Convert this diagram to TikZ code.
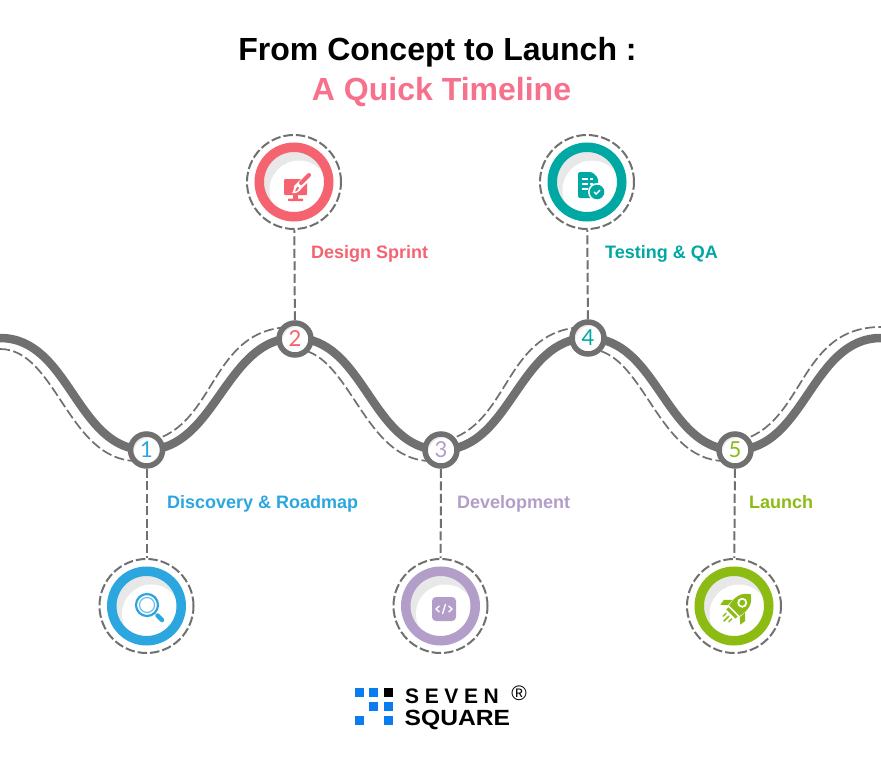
\documentclass[tikz,border=0pt]{standalone}
\usepackage{fontspec}
\setmainfont{Liberation Sans}
\newfontfamily\numfont{Lato}
\usetikzlibrary{calc}
\definecolor{trackgray}{HTML}{707070}
\definecolor{softgray}{HTML}{E8E8E8}
\definecolor{titlepink}{HTML}{F8718C}
\definecolor{sprintred}{HTML}{F4636F}
\definecolor{discoblue}{HTML}{2CA6DF}
\definecolor{devpurple}{HTML}{B39DC9}
\definecolor{testteal}{HTML}{00A8A3}
\definecolor{launchgreen}{HTML}{8CBB13}
\definecolor{logoblue}{HTML}{0A7CF0}
\tikzset{
    halo/.style={circle, draw=trackgray, line width=2pt, dash pattern=on 9.5pt off 3pt, minimum size=94pt, inner sep=0pt},
    bigring/.style={circle, draw=#1, line width=9.5pt, fill=white, minimum size=69.5pt, inner sep=0pt,
        path picture={
            \fill[softgray] (path picture bounding box.center) circle (36pt);
            \fill[white] ($(path picture bounding box.center)+(5pt,-8pt)$) circle (29.5pt);
        }},
    stagering/.style={circle, draw=trackgray, line width=5.5pt, fill=white, minimum size=32pt, inner sep=0pt,
        text=#1, font=\fontsize{22}{22}\numfont,
        path picture={
            \fill[softgray] (path picture bounding box.center) circle (16pt);
            \fill[white] ($(path picture bounding box.center)+(2pt,-2.5pt)$) circle (14.5pt);
        }},
    leader/.style={draw=trackgray, line width=2pt, dash pattern=on 9pt off 3.5pt},
    sidedash/.style={draw=trackgray, line width=1.7pt, dash pattern=on 10pt off 3.5pt},
    steplabel/.style={text=#1, font=\fontsize{18}{18}\selectfont\bfseries, anchor=base west, inner sep=0pt},
    logobox/.style={minimum size=9pt, inner sep=0pt, fill=logoblue},
    logotext/.style={anchor=base west, inner sep=0pt, font=\fontsize{#1}{#1}\selectfont\bfseries},
}
\begin{document}
\begin{tikzpicture}[x=1pt, y=-1pt]
    \useasboundingbox (0,0) rectangle (881,760);

    % Title
    \node[anchor=base, font=\fontsize{32}{32}\selectfont\bfseries] (title) at (437.5,61) {From Concept to Launch :};
    \node[anchor=base, font=\fontsize{32}{32}\selectfont\bfseries, text=titlepink] (subtitle) at (441.5,100) {A Quick Timeline};

    % Dashed side lines
    \foreach \x in {0,294,588} {
        \draw[sidedash] (\x,349) .. controls (\x+56,349) and (\x+68,460) .. (\x+136,461);
    }
    \foreach \x in {0,294,588} {
        \draw[sidedash] (\x+150,441) .. controls (\x+218,425) and (\x+209,327) .. (\x+293,327);
    }

    % Track
    \draw[trackgray, line width=8.5pt] (0,338)
        .. controls (70,338) and (76,450) .. (146,450)
        .. controls (216,450) and (225,338) .. (295,338)
        .. controls (365,338) and (371,450) .. (441,450)
        .. controls (511,450) and (518,338) .. (588,338)
        .. controls (658,338) and (665,450) .. (735,450)
        .. controls (805,450) and (811,338) .. (881,338);

    % Stage markers
    \node[stagering=discoblue] (stage1) at (146.5,450) {1};
    \node[stagering=sprintred] (stage2) at (295,339) {2};
    \node[stagering=devpurple] (stage3) at (441,450) {3};
    \node[stagering=testteal] (stage4) at (588,338) {4};
    \node[stagering=launchgreen] (stage5) at (735,450) {5};

    % Icon circles
    \node[halo] (halo1) at (146.5,606) {};
    \node[halo] (halo2) at (294,182) {};
    \node[halo] (halo3) at (440.5,606) {};
    \node[halo] (halo4) at (587,182) {};
    \node[halo] (halo5) at (734,606) {};
    \node[bigring=discoblue] (ring1) at (halo1) {};
    \node[bigring=sprintred] (ring2) at (halo2) {};
    \node[bigring=devpurple] (ring3) at (halo3) {};
    \node[bigring=testteal] (ring4) at (halo4) {};
    \node[bigring=launchgreen] (ring5) at (halo5) {};

    % Leaders
    \foreach \k in {1,...,5} {
        \draw[leader] (stage\k) -- (halo\k);
    }

    % Labels
    \node[steplabel=discoblue] (label1) at (167,508) {Discovery \& Roadmap};
    \node[steplabel=sprintred] (label2) at (311,258) {Design Sprint};
    \node[steplabel=devpurple] (label3) at (457,508) {Development};
    \node[steplabel=testteal] (label4) at (605,258) {Testing \& QA};
    \node[steplabel=launchgreen] (label5) at (749,508) {Launch};

    % Magnifier
    \begin{scope}[shift={(147,605)}]
        \draw[discoblue, line width=2.2pt] (0,0) circle (11pt);
        \draw[discoblue!70, line width=1.2pt] (0,0) circle (7.5pt);
        \draw[discoblue, line width=4.5pt, line cap=round] (10.5,10.5) -- (15,15);
    \end{scope}

    % Monitor and brush
    \begin{scope}[shift={(284,179)}]
        \fill[sprintred, rounded corners=1pt] (0,0) rectangle (23,16);
        \fill[sprintred] (9,16) rectangle (14,20);
        \fill[sprintred, rounded corners=0.5pt] (4,19.5) rectangle (19,22);
        \draw[white, line width=7pt] (12,10) -- (27,-5);
        \draw[sprintred, line width=4pt, line cap=round] (17,4) -- (25,-4);
        \fill[white] (8,14) .. controls (10,13) and (9,7) .. (13,5.5) -- (17,9) .. controls (16,13) and (11,15) .. (8,14) -- cycle;
        \fill[sprintred] (11,12.5) .. controls (12,11) and (12,9) .. (13.5,7.5) -- (15,9) .. controls (14.5,11) and (13,12) .. (11,12.5) -- cycle;
    \end{scope}

    % Document with badge
    \begin{scope}[shift={(578,172)}]
        \fill[testteal, rounded corners=1.5pt] (0,0) -- (14,0) -- (20,6) -- (20,26) -- (0,26) -- cycle;
        \foreach \y in {7,12,17} {
            \draw[white, line width=1.5pt] (4,\y) -- (10,\y);
        }
        \foreach \y in {7,12} {
            \draw[white, line width=1.5pt] (12,\y) -- (15,\y);
        }
        \fill[white] (19,20) circle (9pt);
        \fill[testteal] (19,20) circle (7.3pt);
        \draw[white, line width=1.4pt] (16,20) -- (18.2,22) -- (22,18.2);
    \end{scope}

    % Code tile
    \begin{scope}[shift={(444,609)}]
        \fill[devpurple, rounded corners=4pt] (-12,-12) rectangle (12,12);
        \draw[white, line width=1.3pt] (-4.5,-3.2) -- (-8,0) -- (-4.5,3.2);
        \draw[white, line width=1.3pt] (4.5,-3.2) -- (8,0) -- (4.5,3.2);
        \draw[white, line width=1.3pt] (1.5,-5) -- (-1.5,5);
    \end{scope}

    % Rocket
    \begin{scope}[shift={(738,607)}, rotate=-45]
        \fill[launchgreen] (0,-18) .. controls (8,-13) and (10,-5) .. (7.5,5) -- (-7.5,5) .. controls (-10,-5) and (-8,-13) .. (0,-18) -- cycle;
        \fill[white] (0,-6) circle (5pt);
        \fill[launchgreen] (0,-6) circle (3pt);
        \fill[launchgreen] (-9,-1) -- (-15,5) -- (-14,11) -- (-8.5,6) -- cycle;
        \fill[launchgreen] (9,-1) -- (15,5) -- (14,11) -- (8.5,6) -- cycle;
        \fill[launchgreen] (-6.5,7) rectangle (6.5,10);
        \draw[launchgreen, line width=1.5pt, line cap=round] (0,13) -- (0,20);
        \draw[launchgreen, line width=1.5pt, line cap=round] (-4,13) -- (-4,17);
        \draw[launchgreen, line width=1.5pt, line cap=round] (4,13) -- (4,17);
    \end{scope}

    % Logo
    \node[logobox] (boxa) at (359.5,692.5) {};
    \node[logobox] (boxb) at (373.5,692.5) {};
    \node[logobox, fill=black] (boxc) at (388,692.5) {};
    \node[logobox] (boxd) at (373.5,706.5) {};
    \node[logobox] (boxe) at (388,706.5) {};
    \node[logobox] (boxf) at (359.5,720.5) {};
    \node[logobox] (boxg) at (388,720.5) {};
    \node[logotext=21] (seven) at (405,703.5) {S\hspace{5.6pt}E\hspace{5.6pt}V\hspace{5.6pt}E\hspace{5.6pt}N};
    \node[logotext=22, xscale=1.12] (square) at (404.5,725) {SQUARE};
    \node[inner sep=0pt, font=\fontsize{21}{21}\selectfont] (regmark) at (519,693) {®};
\end{tikzpicture}
\end{document}
